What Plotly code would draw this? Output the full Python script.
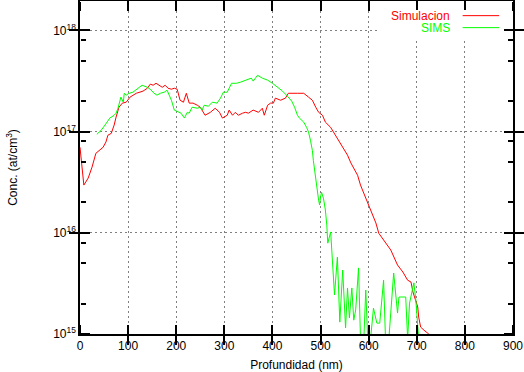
import plotly.graph_objects as go

# Simulacion (red)
depth_sim = [0, 8, 17, 25, 33, 42, 48, 54, 58, 65, 71, 75, 81, 88, 96, 104, 117, 131, 140, 146,
             152, 158, 165, 171, 177, 183, 190, 196, 202, 208, 215, 221, 227, 235, 244, 250, 260,
             271, 281, 290, 296, 306, 310, 317, 323, 329, 338, 344, 350, 360, 371, 379, 383, 390,
             396, 402, 406, 417, 427, 433, 452, 465, 475, 483, 490, 496, 504, 510, 521, 527, 535,
             542, 548, 556, 563, 569, 577, 583, 590, 598, 604, 615, 621, 631, 646, 660, 671, 681,
             688, 692, 698, 702, 704, 708, 715, 725]
conc_sim = [7.0e16, 2.96e16, 3.47e16, 4.45e16, 6.1e16, 6.7e16, 7.0e16, 7.9e16, 9.2e16, 9.6e16,
            1.16e17, 1.39e17, 1.74e17, 1.91e17, 1.95e17, 2.19e17, 2.39e17, 2.51e17, 2.68e17, 2.94e17,
            2.87e17, 3.0e17, 2.87e17, 2.74e17, 2.87e17, 2.68e17, 2.62e17, 2.68e17, 2.62e17, 2.04e17,
            1.95e17, 2.39e17, 1.91e17, 1.91e17, 1.82e17, 1.74e17, 1.45e17, 1.55e17, 1.70e17, 1.55e17,
            1.36e17, 1.45e17, 1.63e17, 1.45e17, 1.55e17, 1.45e17, 1.52e17, 1.55e17, 1.52e17, 1.63e17,
            1.55e17, 1.70e17, 1.45e17, 1.82e17, 1.91e17, 1.91e17, 2.14e17, 2.04e17, 2.14e17, 2.39e17,
            2.39e17, 2.39e17, 2.19e17, 2.04e17, 1.74e17, 1.55e17, 1.45e17, 1.24e17, 1.10e17, 9.9e16,
            8.6e16, 7.7e16, 6.9e16, 5.85e16, 4.9e16, 4.35e16, 3.7e16, 2.96e16, 2.47e16, 1.96e16,
            1.68e16, 1.25e16, 9.9e15, 8.5e15, 6.75e15, 4.8e15, 4.1e15, 3.4e15, 3.26e15, 2.6e15,
            2.07e15, 1.85e15, 1.47e15, 1.17e15, 1.09e15, 1.0e15]

# SIMS (green)
depth_sims = [35, 44, 52, 62, 71, 75, 79, 83, 85, 90, 92, 96, 102, 110, 121, 129, 140, 146, 154,
              160, 167, 175, 181, 190, 196, 204, 210, 217, 223, 227, 233, 244, 250, 254, 258, 267,
              275, 285, 292, 298, 306, 315, 325, 333, 344, 356, 360, 369, 379, 390, 400, 410, 421,
              431, 440, 446, 452, 456, 465, 471, 475, 479, 483, 485, 488, 492, 494, 496, 498, 500,
              502, 506, 510, 513, 515, 521, 529, 535, 540, 546, 552, 556, 560, 565, 569, 573, 579,
              583, 590, 594, 598, 604, 610, 617, 623, 631, 635, 642, 652, 660, 663, 677, 681, 685,
              694, 698, 704]
conc_sims = [9.4e16, 1.03e17, 1.16e17, 1.36e17, 1.45e17, 1.52e17, 1.70e17, 2.04e17, 2.19e17,
             1.95e17, 2.39e17, 2.29e17, 2.39e17, 2.45e17, 2.68e17, 2.87e17, 2.74e17, 2.62e17,
             2.39e17, 2.29e17, 2.39e17, 2.45e17, 2.56e17, 2.04e17, 1.63e17, 1.55e17, 1.52e17,
             1.36e17, 1.55e17, 1.52e17, 1.74e17, 1.70e17, 1.74e17, 1.63e17, 1.82e17, 1.78e17,
             1.95e17, 1.91e17, 2.14e17, 2.45e17, 2.45e17, 3.0e17, 3.0e17, 3.07e17, 3.22e17,
             3.37e17, 3.15e17, 3.6e17, 3.37e17, 3.22e17, 3.0e17, 2.74e17, 2.51e17, 2.24e17,
             2.0e17, 1.74e17, 1.45e17, 1.36e17, 1.24e17, 1.10e17, 9.9e16, 8.2e16, 6.5e16, 5.2e16,
             4.2e16, 3.1e16, 2.47e16, 2.1e16, 1.88e16, 2.25e16, 2.52e16, 2.2e16, 1.68e16, 1.19e16,
             7.9e15, 1.02e16, 2.43e15, 5.75e15, 1.31e15, 4.28e15, 1.15e15, 2.85e15, 1.44e15,
             2.85e15, 1.37e15, 1.73e15, 4.5e15, 9.0e14, 9.0e14, 2.72e15, 9.0e14, 9.0e14, 1.8e15,
             1.28e15, 1.28e15, 3.4e15, 9.0e14, 9.0e14, 4.0e15, 1.61e15, 2.32e15, 2.32e15, 9.0e14,
             2.02e15, 3.2e15, 2.17e15, 9.0e14]

x_ticks = [0, 100, 200, 300, 400, 500, 600, 700, 800, 900]
y_ticks = [1e15, 1e16, 1e17, 1e18]
y_tick_text = ["10<sup>15</sup>", "10<sup>16</sup>", "10<sup>17</sup>", "10<sup>18</sup>"]
y_minor = [2e15, 5e15, 8e15, 2e16, 5e16, 8e16, 2e17, 5e17, 8e17]

FONT = "Liberation Sans, Arial, Helvetica, sans-serif"
X_RANGE = [0, 900]
Y_RANGE = [15, 18.29]

fig = go.Figure()
fig.add_trace(go.Scatter(x=depth_sim, y=conc_sim, mode="lines", name="Simulacion",
                         line=dict(color="#ff0000", width=1), showlegend=False))
fig.add_trace(go.Scatter(x=depth_sims, y=conc_sims, mode="lines", name="SIMS",
                         line=dict(color="#00ff00", width=1), showlegend=False))

grid = dict(showgrid=True, gridcolor="#808080", gridwidth=1, griddash="2px,3px")
tk = dict(tickwidth=2, tickcolor="#000000", showticklabels=False, showgrid=False,
          zeroline=False, showline=False, automargin=False, anchor="free")

fig.update_layout(
    width=524, height=372,
    margin=dict(l=80, r=11, t=1, b=38, autoexpand=False),
    paper_bgcolor="white", plot_bgcolor="white",
    font=dict(family=FONT, size=12, color="black"),
    xaxis=dict(range=X_RANGE, tickmode="array", tickvals=x_ticks,
               ticks="inside", ticklen=9, tickwidth=2, tickcolor="#000000",
               showline=True, linecolor="black", linewidth=1.5, mirror="allticks",
               zeroline=False, automargin=False,
               title=dict(text="Profundidad (nm)", standoff=10,
                          font=dict(family=FONT, size=12)),
               tickfont=dict(family=FONT, size=12), **grid),
    yaxis=dict(type="log", range=Y_RANGE, tickmode="array", tickvals=y_ticks,
               ticktext=y_tick_text,
               ticks="inside", ticklen=9, tickwidth=2, tickcolor="#000000",
               showline=True, linecolor="black", linewidth=1.5, mirror="allticks",
               zeroline=False, automargin=False,
               title=dict(text="Conc. (at/cm<sup>3</sup>)", standoff=33,
                          font=dict(family=FONT, size=12)),
               tickfont=dict(family=FONT, size=12), **grid),
    # tick-mark axes: outside ticks placed on the opposite edge point into the plot
    xaxis2=dict(range=X_RANGE, overlaying="x", side="top", position=0,
                tickmode="array", tickvals=x_ticks, ticks="outside", ticklen=9, **tk),
    xaxis3=dict(range=X_RANGE, overlaying="x", side="bottom", position=1,
                tickmode="array", tickvals=x_ticks, ticks="outside", ticklen=9, **tk),
    yaxis2=dict(type="log", range=Y_RANGE, overlaying="y", side="right", position=0,
                tickmode="array", tickvals=y_ticks, ticks="outside", ticklen=9, **tk),
    yaxis3=dict(type="log", range=Y_RANGE, overlaying="y", side="right", position=0,
                tickmode="array", tickvals=y_minor, ticks="outside", ticklen=5, **tk),
    yaxis4=dict(type="log", range=Y_RANGE, overlaying="y", side="left", position=1,
                tickmode="array", tickvals=y_ticks, ticks="outside", ticklen=9, **tk),
    yaxis5=dict(type="log", range=Y_RANGE, overlaying="y", side="left", position=1,
                tickmode="array", tickvals=y_minor, ticks="outside", ticklen=5, **tk),
)

# empty traces so the tick-mark axes are drawn
for xa, ya in [("x2", "y"), ("x3", "y"), ("x", "y2"), ("x", "y3"), ("x", "y4"), ("x", "y5")]:
    fig.add_trace(go.Scatter(x=[None], y=[None], xaxis=xa, yaxis=ya, showlegend=False,
                             hoverinfo="skip"))

# white key box hiding the grid behind the key
fig.add_shape(type="rect", xref="x domain", yref="y domain",
              x0=0.693, x1=0.975, y0=0.889, y1=0.973,
              fillcolor="white", line=dict(width=0), layer="above")
# key entries: text left, line sample right (gnuplot style)
fig.add_annotation(xref="x domain", yref="y domain", x=0.858, y=0.956,
                   text="Simulacion", showarrow=False, xanchor="right", yanchor="middle",
                   font=dict(family=FONT, size=12, color="#ff0000"))
fig.add_annotation(xref="x domain", yref="y domain", x=0.858, y=0.92,
                   text="SIMS", showarrow=False, xanchor="right", yanchor="middle",
                   font=dict(family=FONT, size=12, color="#00ff00"))
fig.add_annotation(xref="x domain", yref="y domain", x=0.968, y=0.956, text="",
                   showarrow=True, arrowhead=0, arrowwidth=1, arrowcolor="#ff0000",
                   ax=-38, ay=0, standoff=0, startstandoff=0)
fig.add_annotation(xref="x domain", yref="y domain", x=0.968, y=0.92, text="",
                   showarrow=True, arrowhead=0, arrowwidth=1, arrowcolor="#00ff00",
                   ax=-38, ay=0, standoff=0, startstandoff=0)

fig.write_html("out.html", config={"displayModeBar": False},
               post_script="document.body.style.margin='0px';")
